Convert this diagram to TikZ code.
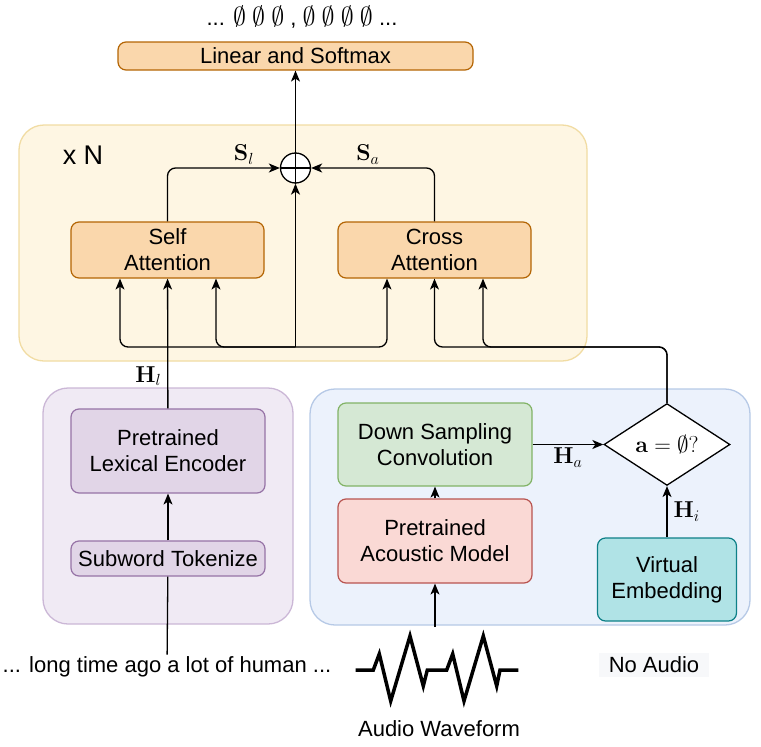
\RequirePackage{fix-cm}
\documentclass[tikz,border=0pt]{standalone}
\usepackage[no-math]{fontspec}
\setmainfont{Liberation Sans}
\usetikzlibrary{arrows.meta,shapes.geometric}

\definecolor{yelfill}{HTML}{FEF6E3}
\definecolor{yelline}{HTML}{F1DCA3}
\definecolor{orangefill}{HTML}{FAD7AC}
\definecolor{orangeline}{HTML}{B46504}
\definecolor{purpfill}{HTML}{E1D5E7}
\definecolor{purpline}{HTML}{9673A6}
\definecolor{purpgroupfill}{HTML}{F0EAF4}
\definecolor{purpgroupline}{HTML}{CBB7D6}
\definecolor{bluegroupfill}{HTML}{ECF2FC}
\definecolor{bluegroupline}{HTML}{B6C9E6}
\definecolor{greenfill}{HTML}{D5E8D4}
\definecolor{greenline}{HTML}{82B366}
\definecolor{redfill}{HTML}{FAD9D5}
\definecolor{redline}{HTML}{B85450}
\definecolor{tealfill}{HTML}{B0E3E6}
\definecolor{tealline}{HTML}{0E8088}
\definecolor{noaudiofill}{HTML}{F7F8FA}

\newcommand{\nulltok}{{\fontsize{26}{30}\selectfont$\emptyset$}}

\tikzset{
  box/.style={draw, rounded corners=8pt, line width=1.2pt, align=center, inner sep=0pt,
    font=\fontsize{22}{26}\selectfont},
  group/.style={draw, rounded corners=25pt, line width=1.3pt, inner sep=0pt},
  link/.style={draw=black, line width=1.3pt, rounded corners=8pt,
    -{Stealth[length=11pt,width=9pt,inset=3pt]}},
  plain/.style={draw=black, line width=1.3pt, rounded corners=8pt},
  mathtag/.style={font=\fontsize{23}{26}\selectfont, inner sep=3pt},
  caption/.style={font=\fontsize{22}{26}\selectfont, inner sep=2pt},
}

\begin{document}
\begin{tikzpicture}[x=1pt,y=-1pt]
  \useasboundingbox (0,0) rectangle (761,747);

  % groups
  \node[group, draw=yelline, fill=yelfill, minimum width=568pt, minimum height=236pt] (stack) at (303,243) {};
  \node[group, draw=purpgroupline, fill=purpgroupfill, minimum width=250pt, minimum height=236pt] (textside) at (168,506) {};
  \node[group, draw=bluegroupline, fill=bluegroupfill, minimum width=440pt, minimum height=236pt] (audioside) at (530,507) {};
  \node[caption, font=\fontsize{27}{30}\selectfont] (repeat) at (83,155) {x N};

  % blocks
  \node[caption] (output) at (302,17) {... \nulltok\ \nulltok\ \nulltok\ , \nulltok\ \nulltok\ \nulltok\ \nulltok\ ...};
  \node[box, draw=orangeline, fill=orangefill, minimum width=355pt, minimum height=28pt] (linear) at (295.5,56) {Linear and Softmax};
  \node[box, draw=orangeline, fill=orangefill, minimum width=193pt, minimum height=56pt] (self) at (167.5,250) {Self\\Attention};
  \node[box, draw=orangeline, fill=orangefill, minimum width=193pt, minimum height=56pt] (cross) at (434.5,250) {Cross\\Attention};
  \node[circle, draw, fill=white, line width=1.3pt, minimum size=30pt, inner sep=0pt] (sum) at (295.5,168) {};
  \draw[line width=1.2pt] (sum.north) -- (sum.south) (sum.west) -- (sum.east);

  \node[box, draw=purpline, fill=purpfill, minimum width=194pt, minimum height=84pt] (lexical) at (168,451) {Pretrained\\Lexical Encoder};
  \node[box, draw=purpline, fill=purpfill, minimum width=194pt, minimum height=35pt] (subword) at (168,558.5) {Subword Tokenize};
  \node[box, draw=greenline, fill=greenfill, minimum width=194pt, minimum height=83pt] (down) at (435,444.5) {Down Sampling\\Convolution};
  \node[box, draw=redline, fill=redfill, minimum width=194pt, minimum height=84pt] (acoustic) at (435,541) {Pretrained\\Acoustic Model};
  \node[box, draw=tealline, fill=tealfill, minimum width=139pt, minimum height=83pt] (virtual) at (667,579.5) {Virtual\\Embedding};
  \node[draw, diamond, fill=white, line width=1.3pt, minimum width=126pt, minimum height=75pt, inner sep=0pt,
    font=\fontsize{23}{26}\selectfont] (cond) at (667,444.5) {$\mathbf{a}=\emptyset?$};

  % inputs
  \node[caption] (words) at (167,667) {... long time ago a lot of human ...};
  \node[caption, fill=noaudiofill, minimum width=110pt, minimum height=24pt] (noaudio) at (654,665) {No Audio};
  \node[caption] (wavename) at (439,729) {Audio Waveform};
  \draw[line width=3.5pt] (355.7,670) -- (373.3,670) -- (379.3,654) -- (390.7,701) -- (410,636)
    -- (423.3,686) -- (427.3,670) -- (446.7,670) -- (452.7,654) -- (464,701) -- (483.3,636)
    -- (496.7,686) -- (500,670) -- (518.3,670);
  \coordinate (wave) at (435,627);

  % connectors
  \draw[link] (sum) -- (linear);
  \draw[link] (self.north) |- node[mathtag, pos=0.84, above] {$\mathbf{S}_l$} (sum.west);
  \draw[link] (cross.north) |- node[mathtag, pos=0.77, above] {$\mathbf{S}_a$} (sum.east);

  \coordinate (bus) at (295.5,347);
  \draw[link] (bus) -- (sum);
  \draw[link] (bus) -| ([xshift=-47.5pt]self.south);
  \draw[link] (bus) -| ([xshift=48.5pt]self.south);
  \draw[link] (bus) -| ([xshift=-47.5pt]cross.south);

  \coordinate (split) at (667,347);
  \draw[link] (cond.north) -- (split) -| (cross.south);
  \draw[link] (cond.north) -- (split) -| ([xshift=48.5pt]cross.south);

  \draw[link] (lexical) -- node[mathtag, pos=0.25, left, xshift=-3pt] {$\mathbf{H}_l$} (self);
  \draw[link] (down) -- node[mathtag, below] {$\mathbf{H}_a$} (cond);
  \draw[link] (virtual) -- node[mathtag, right, xshift=3pt] {$\mathbf{H}_i$} (cond);
  \draw[link] (acoustic) -- (down);
  \draw[link] (wave) -- (acoustic);
  \draw[plain] (words) -- (subword);
  \draw[link] (subword) -- (lexical);
\end{tikzpicture}
\end{document}
